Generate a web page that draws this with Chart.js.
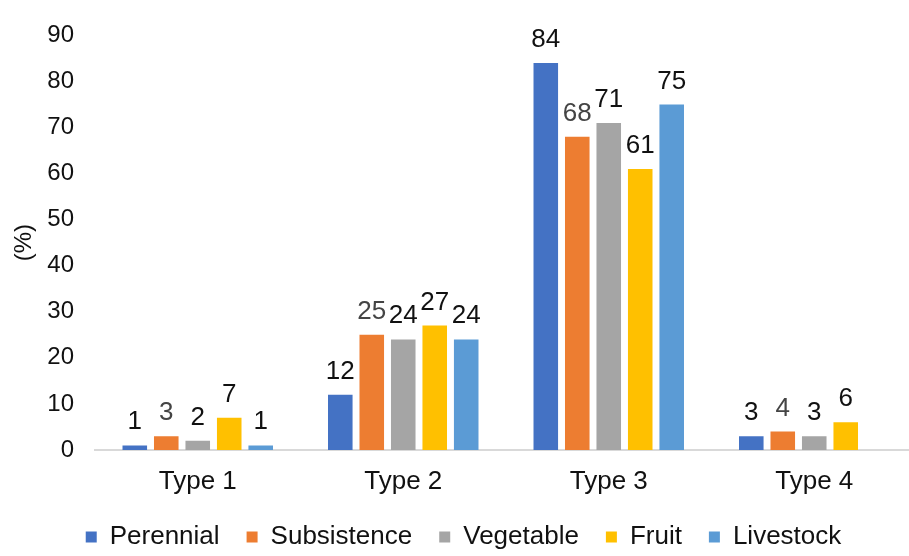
<!DOCTYPE html>
<html>
<head>
<meta charset="utf-8">
<title>Share by farm type</title>
<script src="https://cdn.jsdelivr.net/npm/chart.js@4.4.1/dist/chart.umd.min.js"></script>
<style>
  html, body { margin: 0; padding: 0; background: #ffffff; overflow: hidden; }
  #wrap { width: 917px; height: 556px; }
</style>
</head>
<body>
<div id="wrap"><canvas id="chart" width="917" height="556"></canvas></div>
<script>
// Categories and series (percent)
const categories  = ['Type 1', 'Type 2', 'Type 3', 'Type 4'];
const seriesNames = ['Perennial', 'Subsistence', 'Vegetable', 'Fruit', 'Livestock'];
const perennial   = [1, 12, 84, 3];
const subsistence = [3, 25, 68, 4];
const vegetable   = [2, 24, 71, 3];
const fruit       = [7, 27, 61, 6];
const livestock   = [1, 24, 75, null];

// Y axis range and tick step
const yMin = 0;
const yMax = 90;
const yStep = 10;

// Colours per series, and colour of each series' value labels
const seriesColors = ['#4472C4', '#ED7D31', '#A5A5A5', '#FFC000', '#5B9BD5'];
const labelColors  = ['#111111', '#444444', '#111111', '#111111', '#111111'];

const FONT = "'Liberation Sans', Arial, sans-serif";
const seriesValues = [perennial, subsistence, vegetable, fruit, livestock];

// Writes each bar's value above it
const barValues = {
  id: 'barValues',
  afterDatasetsDraw(chart) {
    const ctx = chart.ctx;
    ctx.save();
    ctx.font = '26px ' + FONT;
    ctx.textAlign = 'center';
    ctx.textBaseline = 'alphabetic';
    chart.data.datasets.forEach((ds, i) => {
      const meta = chart.getDatasetMeta(i);
      ctx.fillStyle = labelColors[i];
      meta.data.forEach((el, j) => {
        const v = ds.data[j];
        if (v === null || v === undefined) return;
        ctx.fillText(String(v), el.x, el.y - 16);
      });
    });
    ctx.restore();
  }
};

// Nudges the legend row to sit under the bars
const legendNudge = {
  id: 'legendNudge',
  afterLayout(chart) {
    const lg = chart.legend;
    if (lg) { lg.left += 5; lg.right += 5; }
  }
};

new Chart(document.getElementById('chart'), {
  type: 'bar',
  data: {
    labels: categories,
    datasets: seriesNames.map((name, i) => ({
      label: name,
      data: seriesValues[i],
      backgroundColor: seriesColors[i],
      borderWidth: 0,
      categoryPercentage: 0.766,
      barPercentage: 0.78
    }))
  },
  options: {
    responsive: false,
    animation: false,
    devicePixelRatio: 1,
    layout: { padding: { top: 21, right: 0, bottom: -4, left: 0 } },
    plugins: {
      legend: {
        position: 'bottom',
        labels: {
          boxWidth: 11,
          boxHeight: 11,
          padding: 27,
          color: '#111111',
          font: { family: FONT, size: 26 }
        }
      },
      tooltip: { enabled: false }
    },
    scales: {
      x: {
        grid: { display: false, drawTicks: false },
        border: { display: true, color: '#d9d9d9', width: 2 },
        ticks: { color: '#111111', padding: 17, font: { family: FONT, size: 26, lineHeight: 1.15 } },
        afterFit(scale) { scale.height = 47; }
      },
      y: {
        min: yMin,
        max: yMax,
        grid: { display: false, drawTicks: false },
        border: { display: false },
        ticks: { stepSize: yStep, color: '#111111', padding: 21, font: { family: FONT, size: 24 } },
        title: {
          display: true,
          text: '(%)',
          color: '#111111',
          font: { family: FONT, size: 24, lineHeight: 1 },
          padding: { top: 12, bottom: 0 }
        },
        afterFit(scale) { scale.width = 95; }
      }
    }
  },
  plugins: [barValues, legendNudge]
});
</script>
</body>
</html>
